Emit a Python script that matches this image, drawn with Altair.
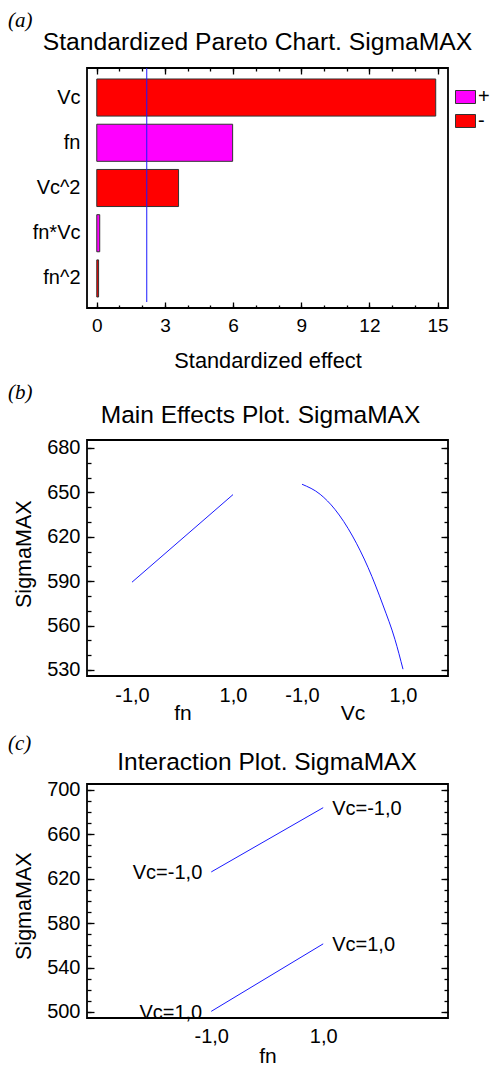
import altair as alt
import pandas as pd

FONT = "Liberation Sans"
SERIF = "Liberation Serif"
BLUE = "#1a1aff"

# ---------------- data ----------------
panel_tags = ["(a)", "(b)", "(c)"]
panel_titles = ["Standardized Pareto Chart. SigmaMAX",
                "Main Effects Plot. SigmaMAX",
                "Interaction Plot. SigmaMAX"]

terms = ["Vc", "fn", "Vc^2", "fn*Vc", "fn^2"]
effects = [14.92, 5.98, 3.60, 0.13, 0.08]
signs = ["-", "+", "-", "+", "-"]
crit_value = [2.2]
effect_ticks = list(range(0, 16))
effect_labels = [0, 3, 6, 9, 12, 15]

fn_levels = [-1.0, 1.0]
fn_sigma = [589.3, 648.5]
vc_levels = [-1.0, -0.64, -0.35, 0.0, 0.31, 0.61, 0.84, 1.0]
vc_sigma = [655.5, 648.7, 638.6, 620.5, 599.1, 573.2, 550.7, 530.5]
b_ticks = list(range(530, 681, 10))
b_labels = list(range(530, 681, 30))
level_ticks = [-1.0, 1.0]

int_fn = [-1.0, 1.0]
int_vc_minus = [626.0, 683.8]
int_vc_plus = [500.6, 561.3]
int_names = ["Vc=-1,0", "Vc=1,0"]
c_ticks = list(range(500, 701, 10))
c_labels = list(range(500, 701, 40))

W = 361
HA, HB, HC = 240, 236, 234
LEVEL_EXPR = "(datum.value < 0 ? '-' : '') + replace(format(abs(datum.value), '.1f'), '.', ',')"


def ax(**kw):
    base = dict(domain=False, grid=False, labelFont=FONT, titleFont=FONT,
                labelColor="black", titleColor="black", tickColor="black",
                tickWidth=1.3, titleFontWeight="normal", labelFontSize=20,
                titleFontSize=21.5, labelOverlap=False)
    base.update(kw)
    return alt.Axis(**base)


def tag_title(i, off):
    return alt.Title(panel_tags[i], anchor="start", frame="group", dx=-79,
                     font=SERIF, fontStyle="italic", fontSize=21,
                     fontWeight="normal", color="black", offset=off)


def main_title(i, x, y, size=24.5):
    return alt.Chart(pd.DataFrame({"t": [panel_titles[i]]})).mark_text(
        font=FONT, fontSize=size, baseline="alphabetic", align="center",
        color="black").encode(text="t:N", x=alt.value(x), y=alt.value(y))


# ---------------- panel (a): Pareto chart ----------------
dfA = pd.DataFrame({"term": terms, "effect": effects, "sign": signs})
xA = alt.Scale(domain=[-0.43, 15.46], nice=False, zero=False)
yA = alt.Scale(domain=terms, paddingInner=0.18, paddingOuter=0.243)

bars = alt.Chart(dfA).mark_bar(stroke="#333333", strokeWidth=1).encode(
    x=alt.X("effect:Q", scale=xA,
            axis=ax(orient="bottom", values=effect_labels, tickSize=6, offset=-6,
                    labelFontSize=19, labelPadding=8.3,
                    title="Standardized effect", titleFontSize=21.8,
                    titleY=48.5, titleBaseline="top")),
    y=alt.Y("term:N", sort=terms, scale=yA,
            axis=ax(ticks=False, labelPadding=7, title=None)),
    color=alt.Color("sign:N",
                    scale=alt.Scale(domain=["+", "-"], range=["#FF00FF", "#FF0000"]),
                    legend=alt.Legend(orient="none", legendX=368, legendY=18.5,
                                      title=None, padding=0,
                                      symbolType="M-1,-0.65L1,-0.65L1,0.65L-1,0.65Z",
                                      symbolSize=400, symbolStrokeColor="#333333",
                                      symbolStrokeWidth=1, labelFont=FONT,
                                      labelFontSize=20, labelColor="black",
                                      labelOffset=2, rowPadding=3)),
)

rule = alt.Chart(pd.DataFrame({"crit": crit_value})).mark_rule(
    color=BLUE, strokeWidth=1).encode(
    x=alt.X("crit:Q", scale=xA,
            axis=ax(orient="bottom", values=effect_ticks, tickSize=3, offset=-3,
                    labels=False, title=None)),
    y=alt.value(0), y2=alt.value(HA - 6))

topA1 = alt.Chart(dfA).mark_point(opacity=0).encode(
    x=alt.X("effect:Q", scale=xA,
            axis=ax(orient="top", values=effect_labels, tickSize=6, offset=-6,
                    labels=False, title=None)),
    y=alt.Y("term:N", sort=terms, scale=yA, axis=None))
topA2 = alt.Chart(dfA).mark_point(opacity=0).encode(
    x=alt.X("effect:Q", scale=xA,
            axis=ax(orient="top", values=effect_ticks, tickSize=3, offset=-3,
                    labels=False, title=None)),
    y=alt.Y("term:N", sort=terms, scale=yA, axis=None))

panelA = alt.layer(bars, rule, topA1, topA2, main_title(0, 170.5, -18, 24.7)).resolve_axis(
    x="independent", y="independent").properties(width=W, height=HA, title=tag_title(0, -1.3))

# ---------------- panel (b): main effects ----------------
dfFn = pd.DataFrame({"level": fn_levels, "sigma": fn_sigma})
dfVc = pd.DataFrame({"level": vc_levels, "sigma": vc_sigma})
yB = alt.Scale(domain=[525.9, 685.4], nice=False, zero=False)
xFn = alt.Scale(domain=[-1.891, 5.257], nice=False, zero=False)
xVc = alt.Scale(domain=[-5.257, 1.891], nice=False, zero=False)

fnLine = alt.Chart(dfFn).mark_line(color=BLUE, strokeWidth=1).encode(
    x=alt.X("level:Q", scale=xFn,
            axis=ax(orient="bottom", values=level_ticks, ticks=False, labelExpr=LEVEL_EXPR,
                    labelPadding=9.2, title="fn", titleX=95.5, titleY=26,
                    titleBaseline="top", titleFontSize=21)),
    y=alt.Y("sigma:Q", scale=yB,
            axis=ax(orient="left", values=b_labels, tickSize=7, offset=-7,
                    labelPadding=7, title="SigmaMAX", titlePadding=10.7, titleY=113.7)))

vcLine = alt.Chart(dfVc).mark_line(color=BLUE, strokeWidth=1, interpolate="monotone").encode(
    x=alt.X("level:Q", scale=xVc,
            axis=ax(orient="bottom", values=level_ticks, ticks=False, labelExpr=LEVEL_EXPR,
                    labelPadding=9.2, title="Vc", titleX=265.5, titleY=26,
                    titleBaseline="top", titleFontSize=21)),
    y=alt.Y("sigma:Q", scale=yB,
            axis=ax(orient="left", values=b_ticks, tickSize=4, offset=-4,
                    labels=False, title=None)))

rightB1 = alt.Chart(dfFn).mark_point(opacity=0).encode(
    y=alt.Y("sigma:Q", scale=yB,
            axis=ax(orient="right", values=b_labels, tickSize=7, offset=-7,
                    labels=False, title=None)))
rightB2 = alt.Chart(dfFn).mark_point(opacity=0).encode(
    y=alt.Y("sigma:Q", scale=yB,
            axis=ax(orient="right", values=b_ticks, tickSize=4, offset=-4,
                    labels=False, title=None)))

panelB = alt.layer(fnLine, vcLine, rightB1, rightB2, main_title(1, 173.5, -16.7)).resolve_scale(
    x="independent").resolve_axis(x="independent", y="independent").properties(
    width=W, height=HB, title=tag_title(1, 0))

# ---------------- panel (c): interaction ----------------
dfInt = pd.DataFrame({
    "fn": int_fn + int_fn,
    "sigma": int_vc_minus + int_vc_plus,
    "vc": [int_names[0]] * 2 + [int_names[1]] * 2,
})
xC = alt.Scale(domain=[-3.22, 3.23], nice=False, zero=False)
yC = alt.Scale(domain=[494.6, 705.1], nice=False, zero=False)

cLines = alt.Chart(dfInt).mark_line(color=BLUE, strokeWidth=1).encode(
    x=alt.X("fn:Q", scale=xC,
            axis=ax(orient="bottom", values=int_fn, ticks=False, labelExpr=LEVEL_EXPR,
                    labelPadding=8.7, title="fn", titleY=27.3, titleBaseline="top",
                    titleFontSize=21)),
    y=alt.Y("sigma:Q", scale=yC,
            axis=ax(orient="left", values=c_labels, tickSize=7, offset=-7,
                    labelPadding=7, title="SigmaMAX", titlePadding=10.7, titleY=121.7)),
    detail="vc:N")

cLeft = alt.Chart(dfInt).transform_filter("datum.fn < 0").mark_text(
    align="right", baseline="middle", dx=-9, dy=1.5, font=FONT, fontSize=20,
    color="black").encode(
    x=alt.X("fn:Q", scale=xC, axis=None),
    y=alt.Y("sigma:Q", scale=yC,
            axis=ax(orient="left", values=c_ticks, tickSize=4, offset=-4,
                    labels=False, title=None)),
    text="vc:N")

cRight = alt.Chart(dfInt).transform_filter("datum.fn > 0").mark_text(
    align="left", baseline="middle", dx=9, dy=1.5, font=FONT, fontSize=20,
    color="black").encode(
    x=alt.X("fn:Q", scale=xC, axis=None),
    y=alt.Y("sigma:Q", scale=yC,
            axis=ax(orient="right", values=c_labels, tickSize=7, offset=-7,
                    labels=False, title=None)),
    text="vc:N")

rightC = alt.Chart(dfInt).mark_point(opacity=0).encode(
    y=alt.Y("sigma:Q", scale=yC,
            axis=ax(orient="right", values=c_ticks, tickSize=4, offset=-4,
                    labels=False, title=None)))

panelC = alt.layer(cLines, cLeft, cRight, rightC, main_title(2, 180, -13.7)).resolve_axis(
    x="independent", y="independent").properties(width=W, height=HC, title=tag_title(2, -3.2))

chart = alt.vconcat(panelA, panelB, panelC, spacing=7).properties(
    padding={"left": -1, "top": 1, "right": -0.5, "bottom": 0}
).configure(font=FONT).configure_view(stroke="black", strokeWidth=1.8, fill="white")

chart.save("out.html", embed_options={"renderer": "svg", "actions": False})
